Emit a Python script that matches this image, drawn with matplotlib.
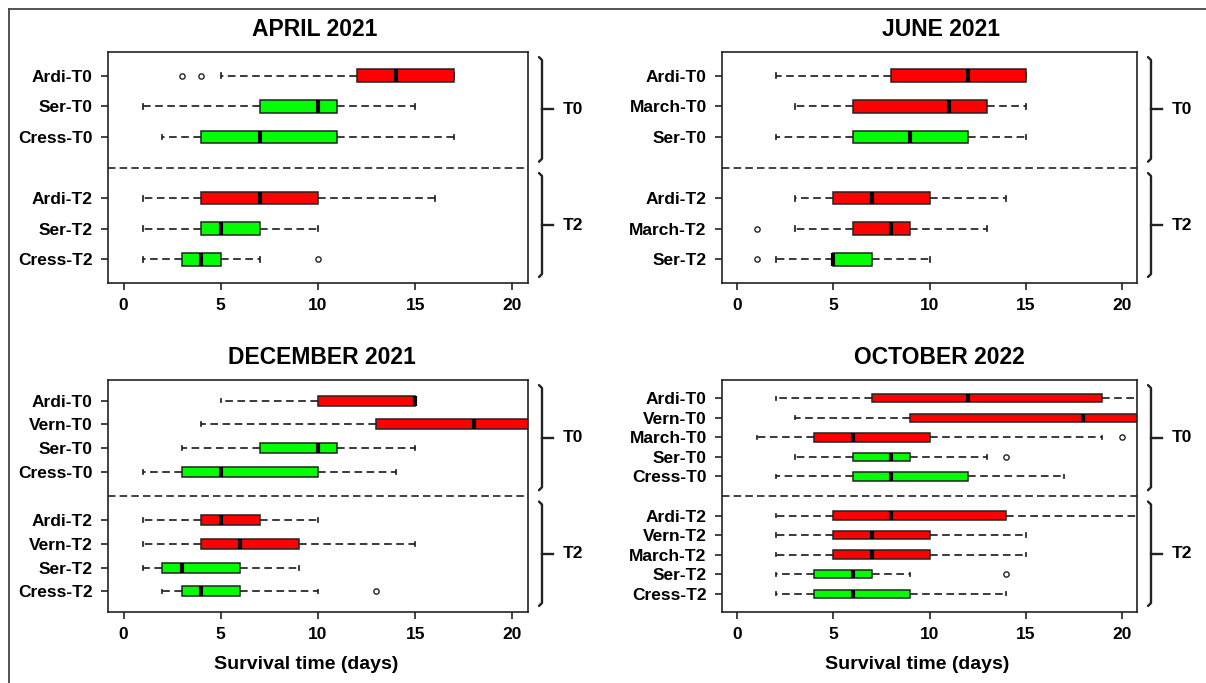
import matplotlib.pyplot as plt
from matplotlib.lines import Line2D

plt.rcParams['font.family'] = ['Liberation Sans', 'DejaVu Sans']
plt.rcParams['font.weight'] = 'bold'

### values (days)
april_labels = ["Ardi-T0", "Ser-T0", "Cress-T0", "Ardi-T2", "Ser-T2", "Cress-T2"]
april_lo  = [5, 1, 2, 1, 1, 1]
april_q1  = [12, 7, 4, 4, 4, 3]
april_med = [14, 10, 7, 7, 5, 4]
april_q3  = [17, 11, 11, 10, 7, 5]
april_hi  = [17, 15, 17, 16, 10, 7]
april_out = [[3, 4], [], [], [], [], [10]]

june_labels = ["Ardi-T0", "March-T0", "Ser-T0", "Ardi-T2", "March-T2", "Ser-T2"]
june_lo  = [2, 3, 2, 3, 3, 2]
june_q1  = [8, 6, 6, 5, 6, 5]
june_med = [12, 11, 9, 7, 8, 5]
june_q3  = [15, 13, 12, 10, 9, 7]
june_hi  = [15, 15, 15, 14, 13, 10]
june_out = [[], [], [], [], [1], [1]]

dec_labels = ["Ardi-T0", "Vern-T0", "Ser-T0", "Cress-T0",
              "Ardi-T2", "Vern-T2", "Ser-T2", "Cress-T2"]
dec_lo  = [5, 4, 3, 1, 1, 1, 1, 2]
dec_q1  = [10, 13, 7, 3, 4, 4, 2, 3]
dec_med = [15, 18, 10, 5, 5, 6, 3, 4]
dec_q3  = [15, 21, 11, 10, 7, 9, 6, 6]
dec_hi  = [15, 21, 15, 14, 10, 15, 9, 10]
dec_out = [[], [], [], [], [], [], [], [13]]

oct_labels = ["Ardi-T0", "Vern-T0", "March-T0", "Ser-T0", "Cress-T0",
              "Ardi-T2", "Vern-T2", "March-T2", "Ser-T2", "Cress-T2"]
oct_lo  = [2, 3, 1, 3, 2, 2, 2, 2, 2, 2]
oct_q1  = [7, 9, 4, 6, 6, 5, 5, 5, 4, 4]
oct_med = [12, 18, 6, 8, 8, 8, 7, 7, 6, 6]
oct_q3  = [19, 21, 10, 9, 12, 14, 10, 10, 7, 9]
oct_hi  = [21, 21, 19, 13, 17, 21, 15, 15, 9, 14]
oct_out = [[], [], [20], [14], [], [], [], [], [14], []]

red_species = ["Ardi", "March", "Vern"]

W, H = 1206, 683
fig = plt.figure(figsize=(W / 100, H / 100), dpi=100)

grey = "#222222"
dash = (0, (4.4, 2.6))


def bracket(ax, y0, y1, text):
    pos = ax.get_position()
    w = pos.width * W
    h = pos.height * H
    x = 1 + 14 / w
    ax.add_line(Line2D([x - 3 / w, x, x, x - 3 / w],
                       [y1, y1 - 3 / h, y0 + 3 / h, y0],
                       transform=ax.transAxes, color="#222222", lw=1.7,
                       clip_on=False, solid_capstyle="round"))
    ym = (y0 + y1) / 2
    ax.add_line(Line2D([x, x + 11 / w], [ym, ym], transform=ax.transAxes,
                       color="#222222", lw=1.7, clip_on=False))
    ax.text(x + 21 / w, ym, text, transform=ax.transAxes, ha="left",
            va="center", fontsize=12.5, fontweight="bold")


def panel(rect, title, labels, lo, q1, med, q3, hi, out, xlabel=False, title_dx=0):
    ax = fig.add_axes(rect)
    n = len(labels)
    half = n // 2
    pos = [n + 1 - i for i in range(half)] + [half - i for i in range(half)]
    stats = []
    for i in range(n):
        stats.append(dict(label=labels[i], whislo=lo[i], q1=q1[i], med=med[i],
                          q3=q3[i], whishi=hi[i], fliers=out[i]))
    bp = ax.bxp(stats, positions=pos, orientation="horizontal", widths=0.42,
                patch_artist=True, capwidths=0.16,
                boxprops=dict(edgecolor=grey, linewidth=1.1),
                whiskerprops=dict(color=grey, linewidth=1.25, linestyle=dash),
                capprops=dict(color=grey, linewidth=1.25),
                medianprops=dict(color="black", linewidth=3, solid_capstyle="butt"),
                flierprops=dict(marker="o", markersize=3.8, markerfacecolor="none",
                                markeredgecolor=grey, markeredgewidth=1.0))
    for patch, lab in zip(bp["boxes"], labels):
        sp = lab.split("-")[0]
        patch.set_facecolor("#ff0000" if sp in red_species else "#00ff00")

    ax.axhline(half + 1, color=grey, lw=1.2, ls=(0, (4.5, 2.5)))
    ax.set_xlim(-0.8, 20.8)
    ax.set_ylim(0.5 - 0.04 * (n + 1), n + 1.5 + 0.04 * (n + 1))
    ax.set_xticks([0, 5, 10, 15, 20])
    ax.set_yticks(pos, labels)
    ax.tick_params(length=5, width=1.2, color=grey, labelsize=12.5, pad=6)
    for s in ax.spines.values():
        s.set_color(grey)
        s.set_linewidth(1.2)
    ax.text(0.5 + title_dx / (rect[2] * W), 1 + 22 / (rect[3] * H), title,
            transform=ax.transAxes, ha="center", va="center", fontsize=16.5,
            fontweight="bold")
    if xlabel:
        ax.set_xlabel("Survival time (days)", fontsize=14, fontweight="bold",
                      labelpad=4)
        ax.xaxis.set_label_coords(0.5 - 12 / (rect[2] * W), -44 / (rect[3] * H))
    bracket(ax, 0.525, 0.978, "T0")
    bracket(ax, 0.026, 0.476, "T2")
    return ax


top_b = 1 - 283 / H
bot_b = 1 - 612 / H
panel([108 / W, top_b, 420 / W, 231 / H], "APRIL 2021", april_labels,
      april_lo, april_q1, april_med, april_q3, april_hi, april_out, title_dx=-3)
panel([722 / W, top_b, 415 / W, 231 / H], "JUNE 2021", june_labels,
      june_lo, june_q1, june_med, june_q3, june_hi, june_out, title_dx=12)
panel([108 / W, bot_b, 420 / W, 232 / H], "DECEMBER 2021", dec_labels,
      dec_lo, dec_q1, dec_med, dec_q3, dec_hi, dec_out, xlabel=True, title_dx=4)
panel([722 / W, bot_b, 415 / W, 232 / H], "OCTOBER 2022", oct_labels,
      oct_lo, oct_q1, oct_med, oct_q3, oct_hi, oct_out, xlabel=True, title_dx=10)

# frame of the original page
fig.add_artist(Line2D([9 / W, 9 / W], [0, 1 - 9 / H], transform=fig.transFigure,
                      color="#444444", lw=1.3))
fig.add_artist(Line2D([9 / W, 1], [1 - 9 / H, 1 - 9 / H], transform=fig.transFigure,
                      color="#444444", lw=1.3))

plt.savefig("out.png", dpi=100)
